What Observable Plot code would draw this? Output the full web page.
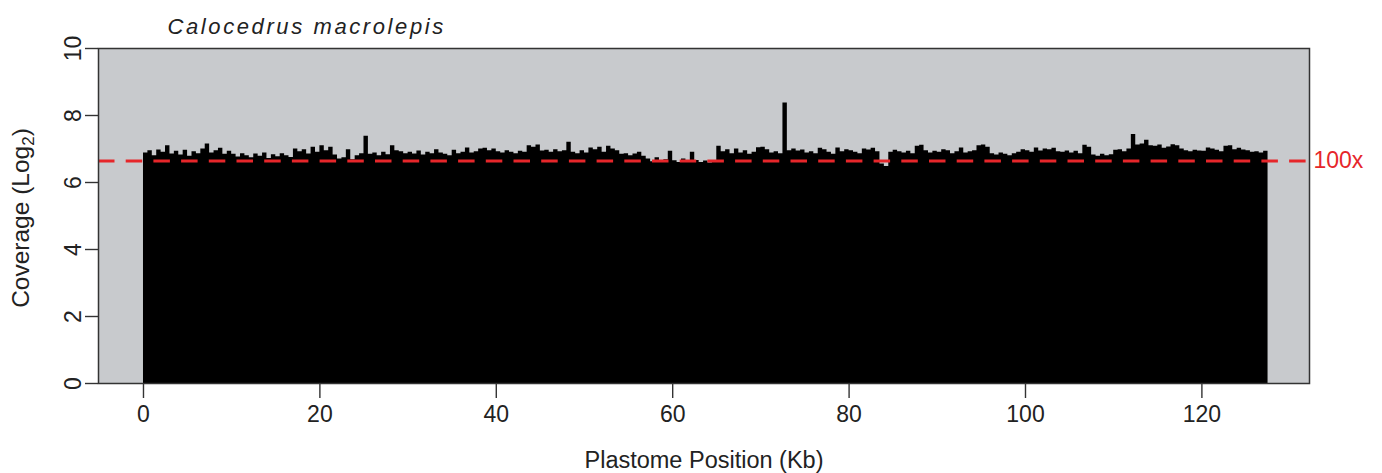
<!DOCTYPE html>
<html>
<head>
<meta charset="utf-8">
<script src="https://cdn.jsdelivr.net/npm/d3@7"></script>
<script src="https://cdn.jsdelivr.net/npm/@observablehq/plot@0.6"></script>
<style>
  html, body { margin: 0; padding: 0; background: #ffffff; }
  #chart { width: 1382px; height: 473px; }
</style>
</head>
<body>
<div id="chart"></div>
<script>
// ---- data ----
const speciesName = "Calocedrus macrolepis";
const binSizeKb = 0.5; // each value covers 0.5 kb, starting at 0 kb
const coverageLog2 = [
  // 0-10 kb
  6.88, 6.95, 6.80, 6.97, 6.90, 7.10, 6.85, 6.93, 6.82, 6.96, 6.78, 6.92, 6.86, 7.00, 7.15, 6.88, 6.95, 7.02, 6.84, 6.93,
  // 10-20 kb
  6.84, 6.76, 6.86, 6.80, 6.74, 6.85, 6.78, 6.88, 6.72, 6.83, 6.77, 6.86, 6.80, 6.75, 7.00, 6.92, 6.98, 6.85, 7.05, 6.90,
  // 20-30 kb
  7.10, 6.95, 7.05, 6.82, 6.70, 6.74, 6.98, 6.68, 6.80, 6.86, 7.38, 6.84, 6.88, 6.80, 6.90, 6.83, 7.10, 6.95, 6.92, 6.86,
  // 30-40 kb
  6.90, 6.85, 6.94, 6.82, 6.90, 6.86, 6.98, 6.88, 6.84, 6.80, 6.96, 6.86, 6.90, 7.03, 6.88, 6.92, 7.00, 7.02, 6.95, 7.00,
  // 40-50 kb
  6.92, 6.88, 6.95, 6.90, 6.86, 6.93, 6.90, 7.10, 7.05, 7.12, 6.94, 6.96, 6.90, 6.98, 6.92, 6.95, 7.20, 6.90, 6.86, 6.95,
  // 50-60 kb
  6.88, 7.03, 6.98, 7.05, 6.90, 7.08, 7.00, 6.95, 6.84, 6.86, 6.80, 6.85, 6.90, 6.78, 6.70, 6.62, 6.74, 6.60, 6.68, 6.93,
  // 60-70 kb
  6.65, 6.60, 6.70, 6.62, 6.90, 6.66, 6.60, 6.64, 6.58, 6.65, 7.08, 6.92, 6.98, 6.86, 7.00, 6.88, 6.95, 6.84, 6.90, 7.04,
  // 70-80 kb
  7.05, 6.98, 6.88, 6.92, 6.86, 8.37, 6.95, 7.00, 6.94, 6.97, 6.88, 6.92, 6.86, 7.02, 6.98, 6.90, 6.84, 7.03, 6.92, 6.98,
  // 80-90 kb
  6.95, 6.90, 6.86, 7.00, 6.97, 7.02, 6.92, 6.55, 6.48, 6.90, 6.96, 6.92, 6.88, 6.93, 6.86, 7.08, 7.11, 6.95, 6.88, 6.93,
  // 90-100 kb
  6.90, 6.98, 6.95, 6.86, 6.92, 7.03, 6.88, 6.92, 6.95, 7.10, 7.12, 7.05, 6.86, 6.82, 6.88, 6.84, 6.80, 6.86, 6.90, 6.98,
  // 100-110 kb
  6.95, 6.90, 7.03, 6.94, 7.00, 6.98, 7.02, 6.92, 6.90, 6.94, 6.88, 6.93, 6.86, 7.11, 7.05, 6.82, 6.78, 6.84, 6.80, 6.83,
  // 110-120 kb
  6.96, 6.98, 6.92, 7.00, 7.43, 7.12, 7.15, 7.26, 7.10, 7.08, 7.12, 7.02, 7.06, 7.13, 7.10, 7.00, 6.95, 6.92, 6.96, 6.94,
  // 120-127.5 kb
  6.93, 7.03, 7.00, 6.96, 6.92, 7.08, 7.10, 6.98, 7.02, 6.97, 6.95, 6.90, 6.92, 6.88, 6.93
];
const xTicks = [0, 20, 40, 60, 80, 100, 120];
const yTicks = [0, 2, 4, 6, 8, 10];
const thresholdCoverage = 100;
const thresholdLabel = "100x";
const xLabel = "Plastome Position (Kb)";
const yLabel = "Coverage (Log2)";

// ---- build table for the step area ----
const rows = coverageLog2.map((v, i) => ({x: i * binSizeKb, y: v}));
rows.push({x: coverageLog2.length * binSizeKb, y: coverageLog2[coverageLog2.length - 1]});
const thresholdLog2 = Math.log2(thresholdCoverage);

const font = "'Liberation Sans', Arial, Helvetica, sans-serif";
const ink = "#222222";
const red = "#e6262a";

const plot = Plot.plot({
  width: 1382,
  height: 473,
  marginTop: 48,
  marginBottom: 90,
  marginLeft: 98,
  marginRight: 73,
  style: {fontFamily: font, fontSize: "23px", color: ink, background: "#ffffff"},
  x: {domain: [-5.1, 132.2]},
  y: {domain: [0, 10]},
  marks: [
    Plot.frame({fill: "#c8cacd", stroke: null}),
    Plot.areaY(rows, {x: "x", y: "y", curve: "step-after", fill: "#000000"}),
    Plot.ruleY([thresholdLog2], {stroke: red, strokeWidth: 3, strokeDasharray: "16.5,11.2"}),
    Plot.text([thresholdLabel], {frameAnchor: "right", y: thresholdLog2, dx: 4, textAnchor: "start", fill: red, fontSize: 23}),
    Plot.frame({stroke: "#333333", strokeWidth: 1.5}),
    Plot.axisX({ticks: xTicks, tickSize: 15, tickPadding: 7, label: null, fontSize: 23, strokeWidth: 1.4, stroke: "#333"}),
    Plot.axisY({ticks: yTicks, tickSize: 13, tickPadding: 5, tickRotate: -90, label: null, fontSize: 23, strokeWidth: 1.4, stroke: "#333"}),
    Plot.text([speciesName], {frameAnchor: "top-left", dx: 69, dy: -15, lineAnchor: "bottom", textAnchor: "start", fontSize: 22, fontStyle: "italic", fill: ink}),
    Plot.text([xLabel], {frameAnchor: "bottom", dy: 84, lineAnchor: "bottom", textAnchor: "middle", fontSize: 23.5, fill: ink}),
    Plot.text([yLabel], {frameAnchor: "left", dx: -70, dy: 2, rotate: -90, lineAnchor: "bottom", textAnchor: "middle", fontSize: 24.5, fill: ink})
  ]
});

document.getElementById("chart").appendChild(plot);

// letter spacing for the italic title, subscript for Log2
const svg = d3.select(plot);
svg.selectAll("text").filter(function () { return this.textContent === speciesName; })
  .style("letter-spacing", "2.6px");
svg.selectAll("text").filter(function () { return this.textContent === yLabel; })
  .each(function () {
    const t = d3.select(this);
    t.text(null);
    t.append("tspan").text("Coverage (Log");
    t.append("tspan").attr("dy", 5).attr("font-size", "17px").text("2");
    t.append("tspan").attr("dy", -5).text(")");
  });
</script>
</body>
</html>
